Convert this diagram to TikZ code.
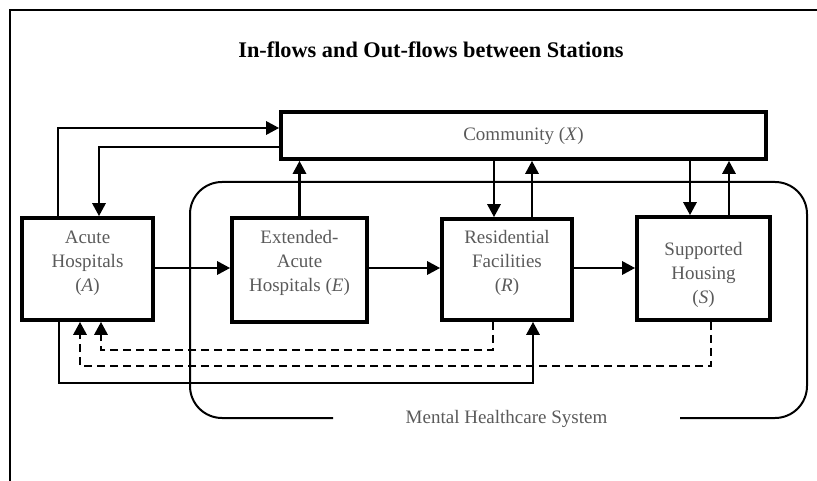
\documentclass[tikz,border=0pt]{standalone}
\usepackage{fontspec}
\setmainfont{Liberation Serif}
\usetikzlibrary{arrows.meta}
\definecolor{txtgray}{RGB}{90,90,90}
\begin{document}
\begin{tikzpicture}[x=1pt,y=-1pt,
  box/.style={draw, line width=3.6pt, inner sep=0pt},
  arr/.style={line width=2.8pt, -{Triangle[length=13pt,width=13pt]}},
  darr/.style={arr, dash pattern=on 8pt off 5pt},
  lbl/.style={text=txtgray, font=\fontsize{19}{24}\selectfont, align=center, inner sep=0pt},
  sysline/.style={line width=2pt, rounded corners=32pt}]
\useasboundingbox (0,0) rectangle (817,481);
% frame
\draw[line width=2pt] (10,481) -- (10,10) -- (817,10);
% title
\node[font=\bfseries\fontsize{22.3}{26}\selectfont, anchor=base, inner sep=0pt] (title) at (431,58) {In-flows and Out-flows between Stations};
% boxes
\node[box, minimum width=485pt, minimum height=47pt] (X) at (523.5,135.5) {};
\node[box, minimum width=131pt, minimum height=102pt] (A) at (87.5,269) {};
\node[box, minimum width=135pt, minimum height=104pt] (E) at (299.5,270) {};
\node[box, minimum width=130pt, minimum height=101pt] (R) at (507,269.5) {};
\node[box, minimum width=133pt, minimum height=103pt] (S) at (703.5,268.5) {};
% labels
\node[lbl] (tX) at (523.5,135.5) {Community (\textit{X})};
\node[lbl] (tA) at (87.5,263) {Acute\\Hospitals\\(\textit{A})};
\node[lbl] (tE) at (299.5,263) {Extended-\\Acute\\Hospitals (\textit{E})};
\node[lbl] (tR) at (507,263) {Residential\\Facilities\\(\textit{R})};
\node[lbl] (tS) at (703.5,275) {Supported\\Housing\\(\textit{S})};
% system boundary
\draw[sysline] (333,418) -- (190,418) -- (190,182) -- (807,182) -- (807,418) -- (680,418);
\node[lbl, anchor=base] (tM) at (506.5,423) {Mental Healthcare System};
% community links
\draw[arr] (A.north -| 58,0) |- (X.west |- 0,128);
\draw[arr] (X.west |- 0,147) -| (A.north -| 99,0);
\draw[arr] (E.north) -- (X.south -| E.north);
\draw[arr] (X.south -| 494,0) -- (R.north -| 494,0);
\draw[arr] (R.north -| 532,0) -- (X.south -| 532,0);
\draw[arr] (X.south -| 690,0) -- (S.north -| 690,0);
\draw[arr] (S.north -| 729,0) -- (X.south -| 729,0);
% forward flows
\draw[arr] (A.east |- 0,268) -- (E.west |- 0,268);
\draw[arr] (E.east |- 0,268) -- (R.west |- 0,268);
\draw[arr] (R.east |- 0,268) -- (S.west |- 0,268);
% return flows
\draw[darr] (R.south -| 493,0) -- (493,350) -- (101,350) -- (A.south -| 101,0);
\draw[darr] (S.south -| 711,0) -- (711,366) -- (80,366) -- (A.south -| 80,0);
\draw[arr] (A.south -| 59,0) -- (59,383) -- (533,383) -- (R.south -| 533,0);
\end{tikzpicture}
\end{document}
